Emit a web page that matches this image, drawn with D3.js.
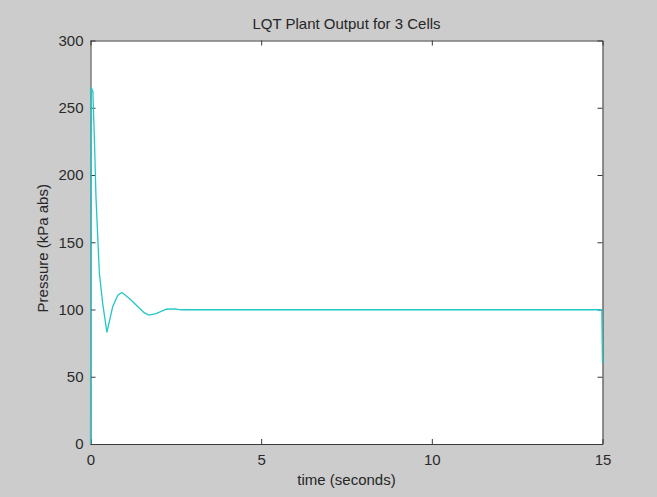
<!DOCTYPE html>
<html>
<head>
<meta charset="utf-8">
<script src="https://cdn.jsdelivr.net/npm/d3@7"></script>
<style>
  body { margin: 0; background: #cccccc; }
  svg { display: block; font-family: "Liberation Sans", Arial, sans-serif; }
</style>
</head>
<body>
<svg id="chart" width="657" height="497"></svg>
<script>
// values
var timeValues = [0, 0.02, 0.07, 0.12, 0.16, 0.21, 0.26, 0.36, 0.48, 0.65, 0.80, 0.92, 1.14, 1.39, 1.58, 1.71, 1.92, 2.22, 2.46, 2.66, 14.98, 15];
var pressureValues = [0, 265, 262, 222, 184, 155, 127, 104, 83, 102, 110.6, 112.6, 108.2, 102, 97.5, 95.8, 97, 100.2, 100.5, 99.8, 99.8, 60];
var xTicks = [0, 5, 10, 15];
var yTicks = [0, 50, 100, 150, 200, 250, 300];

var titleText = "LQT Plant Output for 3 Cells";
var xLabel = "time (seconds)";
var yLabel = "Pressure (kPa abs)";

// set the dimensions and margins of the graph
var margin = {top: 40.5, right: 54.5, bottom: 53, left: 90.5},
    width = 657 - margin.left - margin.right,
    height = 497 - margin.top - margin.bottom;

var svg = d3.select("#chart");

svg.append("rect")
    .attr("width", 657)
    .attr("height", 497)
    .attr("fill", "#cccccc");

var g = svg.append("g")
    .attr("transform", "translate(" + margin.left + "," + margin.top + ")");

// set the ranges
var x = d3.scaleLinear().domain([0, 15]).range([0, width]);
var y = d3.scaleLinear().domain([0, 300]).range([height, 0]);

g.append("rect")
    .attr("width", width)
    .attr("height", height)
    .attr("fill", "#ffffff");

function styleAxis(sel) {
  sel.select(".domain").attr("stroke", "#3a3a3a");
  sel.selectAll(".tick line").attr("stroke", "#3a3a3a");
  sel.selectAll(".tick text")
      .attr("fill", "#2a2a2a")
      .style("font-size", "15px");
}

// bottom axis
g.append("g")
    .attr("transform", "translate(0," + height + ")")
    .call(d3.axisBottom(x).tickValues(xTicks).tickSizeInner(-5).tickSizeOuter(0).tickPadding(10).tickFormat(d3.format("d")))
    .call(styleAxis);

// left axis
g.append("g")
    .call(d3.axisLeft(y).tickValues(yTicks).tickSizeInner(-5).tickSizeOuter(0).tickPadding(7).tickFormat(d3.format("d")))
    .call(styleAxis);

// top and right axes for the box, no labels
g.append("g")
    .call(d3.axisTop(x).tickValues(xTicks).tickSizeInner(-5).tickSizeOuter(0).tickFormat(""))
    .call(styleAxis);

g.append("g")
    .attr("transform", "translate(" + width + ",0)")
    .call(d3.axisRight(y).tickValues(yTicks).tickSizeInner(-5).tickSizeOuter(0).tickFormat(""))
    .call(styleAxis);

// the plant output line
var line = d3.line()
    .x(function(d, i) { return x(timeValues[i]); })
    .y(function(d) { return y(d); });

g.append("path")
    .datum(pressureValues)
    .attr("fill", "none")
    .attr("stroke", "#22c8c8")
    .attr("stroke-width", 1.3)
    .attr("d", line);

// title and axis labels
svg.append("text")
    .attr("x", margin.left + width / 2)
    .attr("y", 29)
    .attr("text-anchor", "middle")
    .attr("fill", "#262626")
    .style("font-size", "15px")
    .text(titleText);

svg.append("text")
    .attr("x", margin.left + width / 2)
    .attr("y", 485)
    .attr("text-anchor", "middle")
    .attr("fill", "#262626")
    .style("font-size", "15px")
    .text(xLabel);

svg.append("text")
    .attr("transform", "translate(48," + (margin.top + height / 2 + 6) + ") rotate(-90)")
    .attr("text-anchor", "middle")
    .attr("fill", "#262626")
    .style("font-size", "15px")
    .text(yLabel);
</script>
</body>
</html>
